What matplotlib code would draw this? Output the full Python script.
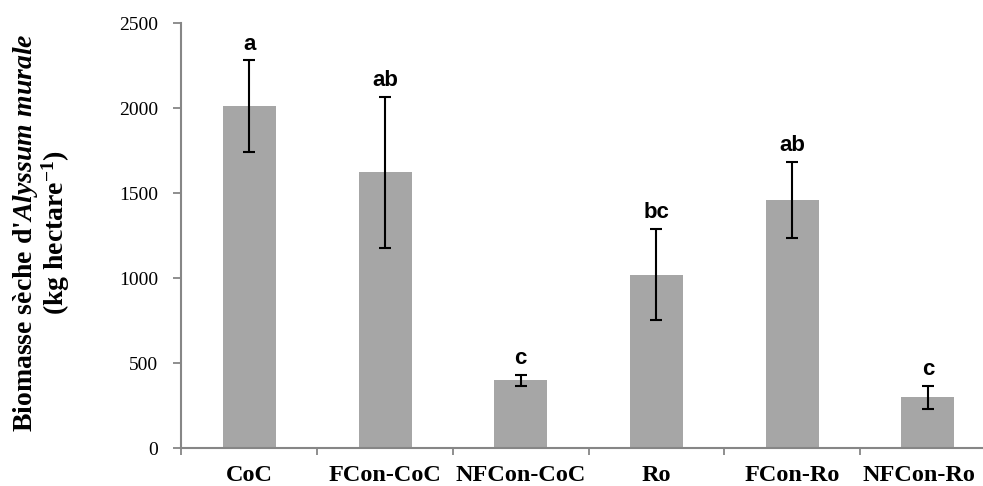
import numpy as np
import matplotlib
matplotlib.use('Agg')
import matplotlib.pyplot as plt
import matplotlib.transforms as mtransforms
from matplotlib.ticker import FixedLocator


CATEGORIES = ['CoC', 'FCon-CoC', 'NFCon-CoC', 'Ro', 'FCon-Ro', 'NFCon-Ro']
BIOMASS = [2012, 1624, 400, 1022, 1460, 300]
ERRORS = [270, 443, 32, 268, 225, 68]
LETTERS = ['a', 'ab', 'c', 'bc', 'ab', 'c']

BAR_COLOR = '#a6a6a6'
AXIS_COLOR = '#868686'


def main():
    plt.rcParams['font.family'] = 'Liberation Serif'
    plt.rcParams['mathtext.fontset'] = 'custom'
    plt.rcParams['mathtext.rm'] = 'Liberation Serif:bold'
    plt.rcParams['mathtext.bf'] = 'Liberation Serif:bold'
    plt.rcParams['mathtext.it'] = 'Liberation Serif:italic:bold'

    fig = plt.figure(figsize=(9.83, 4.86), dpi=100)
    ax = fig.add_axes([0.1846, 0.0776, 0.8284, 0.8744])

    x = np.arange(len(CATEGORIES))
    ax.bar(x, BIOMASS, width=0.39, color=BAR_COLOR, zorder=2)
    ax.errorbar(x, BIOMASS, yerr=ERRORS, fmt='none', ecolor='black',
                elinewidth=1.5, capsize=4.2, capthick=1.5, zorder=3)

    for xi, val, err, lab in zip(x, BIOMASS, ERRORS, LETTERS):
        ax.annotate(lab, (xi, val + err), xytext=(0, 4), textcoords='offset points',
                    ha='center', va='bottom', fontsize=16, fontweight='bold',
                    family='Liberation Sans')

    ax.set_xlim(-0.5, len(CATEGORIES) - 0.5)
    ax.set_ylim(0, 2500)
    ax.set_yticks(np.arange(0, 2501, 500))
    ax.set_xticks(x)
    ax.set_xticklabels(CATEGORIES, fontweight='bold', fontsize=17.5)
    ax.xaxis.set_minor_locator(FixedLocator(np.arange(-0.5, len(CATEGORIES), 1.0)))
    ax.tick_params(axis='x', which='major', length=0, pad=12)
    ax.tick_params(axis='x', which='minor', length=5, width=1.3, color=AXIS_COLOR)
    ax.tick_params(axis='y', length=6, width=1.3, color=AXIS_COLOR, pad=11, labelsize=14)

    # last label is nudged left so it stays inside the picture
    last = ax.get_xticklabels()[-1]
    last.set_transform(last.get_transform() +
                       mtransforms.ScaledTranslation(-9 / 100, 0, fig.dpi_scale_trans))

    for side in ['top', 'right']:
        ax.spines[side].set_visible(False)
    for side in ['left', 'bottom']:
        ax.spines[side].set_color(AXIS_COLOR)
        ax.spines[side].set_linewidth(1.5)

    ax.set_ylabel("Biomasse sèche d'$\\mathit{Alyssum\\ murale}$\n(kg hectare$^{-1}$)",
                  fontsize=20, fontweight='bold', linespacing=1.0)
    ax.yaxis.set_label_coords(-0.134, 0.507)

    fig.savefig('out.png', dpi=100)


if __name__ == "__main__":
    main()
